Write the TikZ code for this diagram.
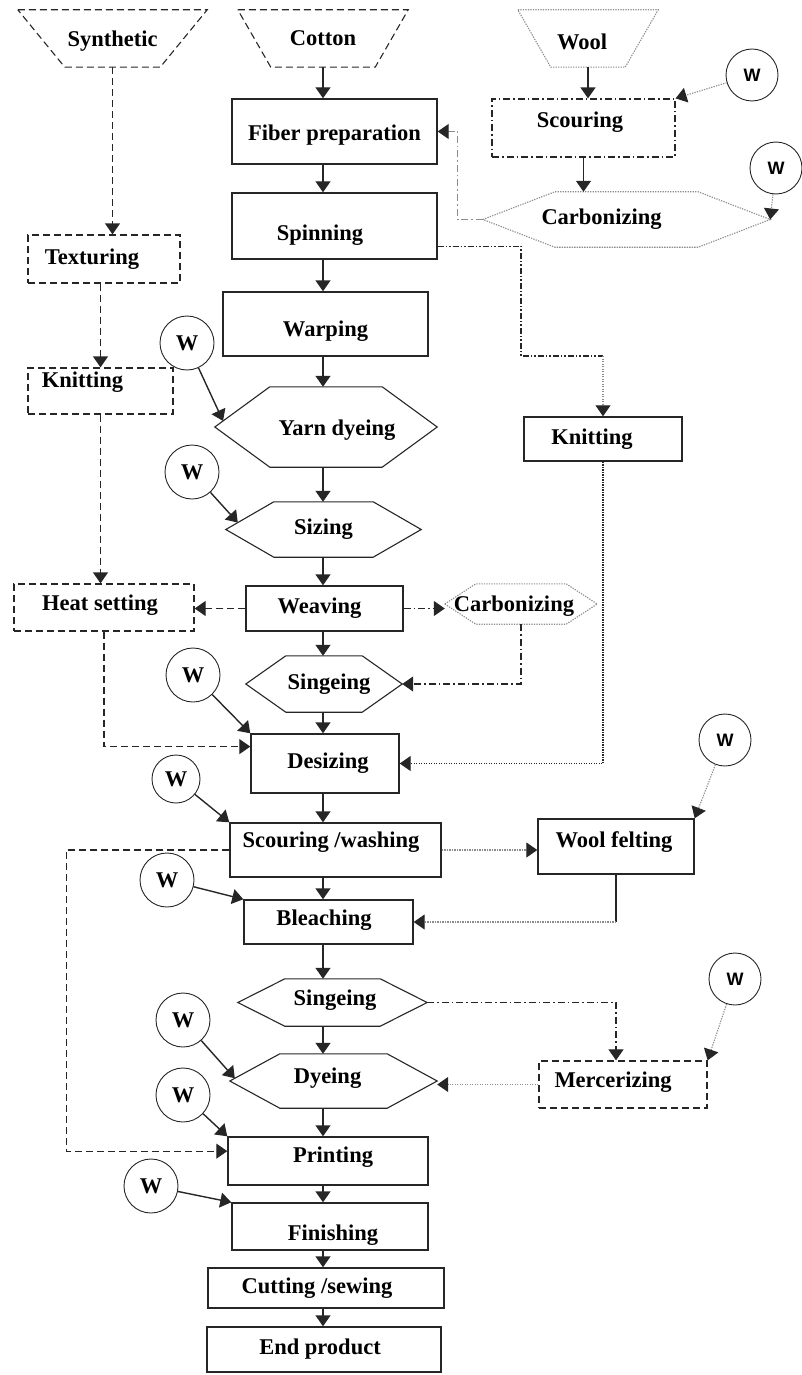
\documentclass[tikz,border=0pt]{standalone}
\usepackage{fontspec}
\setmainfont{Liberation Serif}
\newfontfamily\wfont{Liberation Sans}
\usetikzlibrary{arrows.meta,calc}

\colorlet{ink}{black!85}
\colorlet{pale}{black!45}

% outlines drawn round an undrawn node
\newcommand\hexout[3][]{\draw[#1] (#2.west) -- ([xshift=#3]#2.north west) coordinate (#2-nw) -- ([xshift=-#3]#2.north east) -- (#2.east) -- ([xshift=-#3]#2.south east) -- ([xshift=#3]#2.south west) -- cycle;}
\newcommand\trapout[3][]{\draw[#1] (#2.north west) -- (#2.north east) -- ([xshift=-#3]#2.south east) -- ([xshift=#3]#2.south west) -- cycle;}
% text set off the middle of its box
\newcommand\offtext[3]{\kern#1pt\raisebox{#2pt}[\height][\depth]{#3}}

\begin{document}
\begin{tikzpicture}[x=1pt,y=-1pt,
  every node/.style={font=\bfseries\fontsize{22.5}{24}\selectfont, inner sep=0pt},
  box/.style 2 args={draw=ink, line width=1.4pt, minimum width=#1pt, minimum height=#2pt},
  shp/.style 2 args={minimum width=#1pt, minimum height=#2pt},
  wc/.style={draw=ink, circle, line width=.9pt, minimum size=54pt},
  ws/.style={draw=ink, circle, line width=.9pt, minimum size=52pt, font=\wfont\bfseries\fontsize{18}{20}\selectfont},
  arr/.style={-{Triangle[length=11pt,width=15pt,color=ink]}},
  flow/.style={arr, draw=ink, line width=1.4pt},
  dashln/.style={draw=ink, line width=1.3pt, dash pattern=on 7pt off 4pt},
  dotln/.style={draw=pale, line width=1.1pt, dash pattern=on 1.3pt off 1.2pt},
  dotdash/.style={draw=ink, line width=1.2pt, dash pattern=on 7pt off 3pt on 1.5pt off 3pt},
  ddotln/.style={draw=ink, line width=1.2pt, dash pattern=on 6pt off 2pt on 1.5pt off 2pt on 1.5pt off 2pt}]
\useasboundingbox (0,0) rectangle (801,1375);
\coordinate (spine) at (323,0);

% sources
\node[shp={189}{57}] (syn) at (112.5,38.5) {\offtext{0}{-3}{Synthetic}};
\node[shp={170}{57}] (cot) at (323,38.5) {Cotton};
\node[shp={140}{57}] (wool) at (588,38.5) {\offtext{-12}{-3}{Wool}};
\trapout[dashln, line width=1.1pt]{syn}{47pt}
\trapout[dashln, line width=1.1pt]{cot}{33pt}
\trapout[dotln]{wool}{33pt}

% cotton line
\node[box={205}{65}] (fiber) at (334.5,131.5) {\offtext{0}{-4}{Fiber preparation}};
\node[box={205}{66}] (spin) at (334.5,226) {\offtext{-29}{-9}{Spinning}};
\node[box={205}{64}] (warp) at (325.5,324) {\offtext{0}{-7}{Warping}};
\node[shp={222}{80}] (yarn) at (326,427) {\offtext{22}{-3}{Yarn dyeing}};
\node[shp={195}{55}] (sizing) at (323.5,529.5) {Sizing};
\node[box={157}{45}] (weave) at (324.5,608.5) {\offtext{-10}{0}{Weaving}};
\node[shp={156}{56}] (singe) at (324,684) {\offtext{10}{0}{Singeing}};
\node[box={148}{59}] (desize) at (325,763.5) {\offtext{6}{0}{Desizing}};
\node[box={211}{54}] (scour) at (335.5,850) {\offtext{-9}{8}{Scouring /washing}};
\node[box={169}{44}] (bleach) at (328.5,922) {\offtext{-9}{2}{Bleaching}};
\node[shp={189}{47}] (singeb) at (332.5,1002.5) {\offtext{5}{2}{Singeing}};
\node[shp={207}{54}] (dye) at (333.5,1081) {\offtext{-12}{3}{Dyeing}};
\node[box={200}{48}] (print) at (328,1161) {\offtext{10}{4}{Printing}};
\node[box={196}{47}] (finish) at (330,1226.5) {\offtext{6}{-9}{Finishing}};
\node[box={236}{40}] (cut) at (326,1288) {\offtext{-18}{0}{Cutting /sewing}};
\node[box={234}{45}] (endp) at (324,1349.5) {\offtext{-8}{0}{End product}};
\hexout[draw=ink, line width=1.1pt]{yarn}{55pt}
\hexout[draw=ink, line width=1.1pt]{sizing}{48pt}
\hexout[draw=ink, line width=1.1pt]{singe}{40pt}
\hexout[draw=ink, line width=1.1pt]{singeb}{47pt}
\hexout[draw=ink, line width=1.1pt]{dye}{50pt}

% synthetic line
\node[box={152}{48}, dashln] (texture) at (104,259) {\offtext{-24}{0}{Texturing}};
\node[box={145}{46}, dashln] (knita) at (100.5,391) {\offtext{-36}{9}{Knitting}};
\node[box={180}{47}, dashln] (heat) at (104,607.5) {\offtext{-8}{2}{Heat setting}};

% wool line
\node[box={183}{58}, dotdash] (scourw) at (583.5,128) {\offtext{-7}{6}{Scouring}};
\node[shp={287}{55}] (carb) at (626.5,219.5) {\offtext{-50}{0}{Carbonizing}};
\node[shp={152}{40}] (carbb) at (521,604) {\offtext{-14}{-2}{Carbonizing}};
\node[box={158}{44}] (knitb) at (603,439) {\offtext{-22}{0}{Knitting}};
\node[box={156}{55}] (felt) at (616,846.5) {\offtext{-4}{4}{Wool felting}};
\node[box={168}{47}, dashln] (merc) at (623,1084.5) {\offtext{-20}{2}{Mercerizing}};
\hexout[dotln]{carb}{72pt}
\hexout[dotln]{carbb}{31pt}

% water inputs
\node[wc] (wa) at (187,343) {W};
\node[wc] (wb) at (192,472) {W};
\node[wc] (wcc) at (193,675) {W};
\node[wc, minimum size=48pt] (wd) at (176,779) {W};
\node[wc] (we) at (167,880) {W};
\node[wc] (wh) at (183,1020) {W};
\node[wc] (wi) at (183,1095) {W};
\node[wc] (wj) at (151,1186) {W};
\node[ws] (wr1) at (752,75) {W};
\node[ws] (wr2) at (776,168) {W};
\node[ws] (wr3) at (725,740) {W};
\node[ws] (wr4) at (735,979) {W};

% main flow
\draw[flow] (cot.south -| spine) -- (fiber.north -| spine);
\draw[flow] (fiber.south -| spine) -- (spin.north -| spine);
\draw[flow] (spin.south -| spine) -- (warp.north -| spine);
\draw[flow] (warp.south -| spine) -- (yarn.north -| spine);
\draw[flow] (yarn.south -| spine) -- (sizing.north -| spine);
\draw[flow] (sizing.south -| spine) -- (weave.north -| spine);
\draw[flow] (weave.south -| spine) -- (singe.north -| spine);
\draw[flow] (singe.south -| spine) -- (desize.north -| spine);
\draw[flow] (desize.south -| spine) -- (scour.north -| spine);
\draw[flow] (scour.south -| spine) -- (bleach.north -| spine);
\draw[flow] (bleach.south -| spine) -- (singeb.north -| spine);
\draw[flow] (singeb.south -| spine) -- (dye.north -| spine);
\draw[flow] (dye.south -| spine) -- (print.north -| spine);
\draw[flow] (print.south -| spine) -- (finish.north -| spine);
\draw[flow] (finish.south -| spine) -- (cut.north -| spine);
\draw[flow] (cut.south -| spine) -- (endp.north -| spine);

% synthetic branch
\draw[arr, dashln] (syn.south) -- (syn.south |- texture.north);
\draw[arr, dashln] (texture.south -| knita) -- (knita.north);
\draw[arr, dashln] (knita.south) -- (knita.south |- heat.north);
\draw[arr, dashln] (weave.west) -- (weave.west -| heat.east);
\draw[arr, dashln] (heat.south) |- ($(desize.north west)!.22!(desize.south west)$);

% wool branch
\draw[flow] (wool.south) -- (wool.south |- scourw.north);
\draw[flow] (scourw.south) -- (scourw.south |- carb.north);
\draw[arr, dotdash, draw=pale] (carb.west) -- ++(-25,0) |- (fiber.east);
\draw[ddotln] ($(spin.north east)!.8!(spin.south east)$) -| (521,356) -- (603,356) coordinate (kbend);
\draw[arr, dotln] (kbend) -- (knitb.north);
\draw[arr, dotln, draw=ink] (knitb.south) |- (desize.east);
\draw[arr, dotdash] (weave.east) -- (weave.east -| carbb.west);
\draw[arr, dotdash] (carbb.south) |- (singe.east);
\draw[arr, dotln] (scour.east) -- (scour.east -| felt.west);
\draw[draw=ink, line width=1.1pt] (felt.south) -- (felt.south |- bleach.east) coordinate (fbend);
\draw[arr, dotln] (fbend) -- (bleach.east);
\draw[arr, dotdash] (singeb.east) -| ([xshift=-7pt]merc.north);
\draw[arr, dotln] (merc.west) -- (merc.west -| dye.east);
\draw[arr, dashln, line width=1.1pt] (scour.west) -- ++(-163,0) |- ($(print.north west)!.3!(print.south west)$);

% water arrows
\draw[flow] (wa) -- ($(yarn.west)!.15!(yarn-nw)$);
\draw[flow] (wb) -- ($(sizing.west)!.25!(sizing-nw)$);
\draw[flow] (wcc) -- (desize.north west);
\draw[flow] (wd) -- (scour.north west);
\draw[flow] (we) -- (bleach.north west);
\draw[flow] (wh) -- ($(dye.west)!.1!(dye-nw)$);
\draw[flow] (wi) -- (print.north west);
\draw[flow] (wj) -- (finish.north west);
\draw[arr, dotln] (wr1) -- (scourw.north east);
\draw[arr, dotln] (wr2) -- (carb.east);
\draw[arr, dotln] (wr3) -- (felt.north east);
\draw[arr, dotln] (wr4) -- (merc.north east);
\end{tikzpicture}
\end{document}
